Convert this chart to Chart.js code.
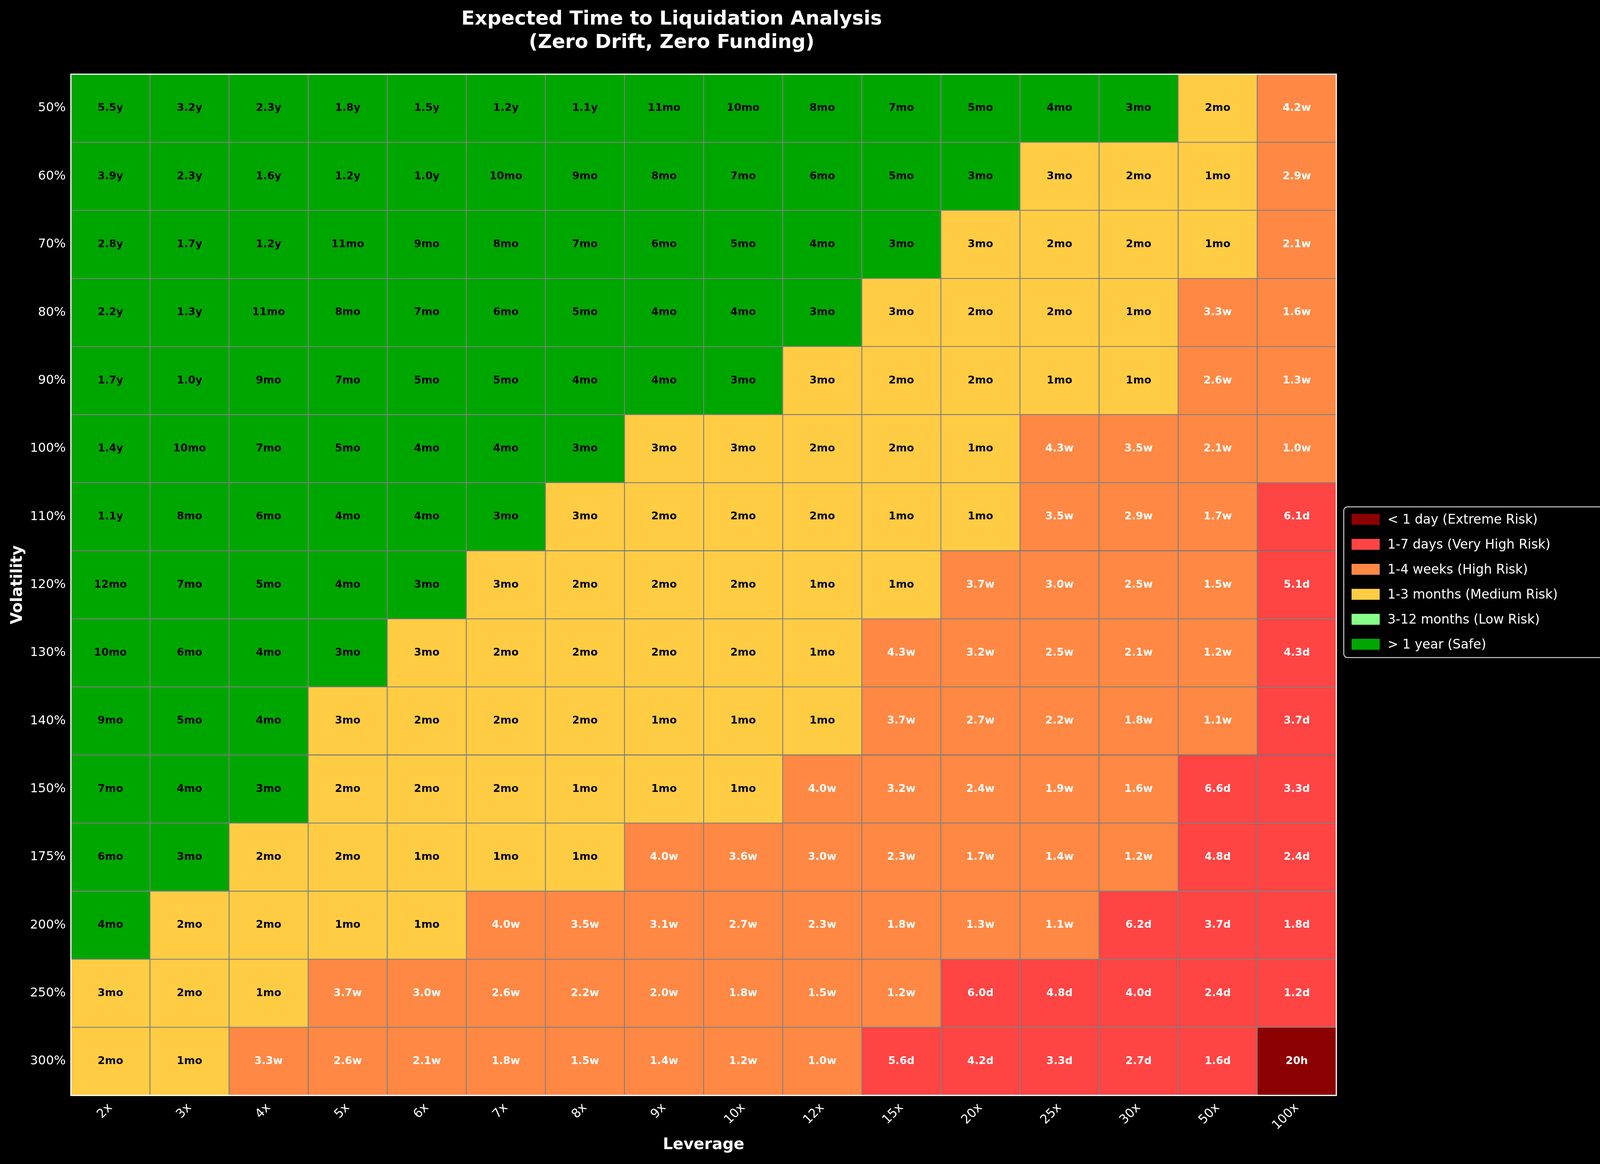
<!DOCTYPE html>
<html>
<head>
<meta charset="utf-8">
<script src="https://cdn.jsdelivr.net/npm/chart.js@4"></script>
<style>
  html, body { margin: 0; padding: 0; background: #000; }
  #wrap { width: 4171px; height: 2981px; }
</style>
</head>
<body>
<div id="wrap"><canvas id="c"></canvas></div>
<script>
// Leverage columns and volatility rows
const leverages = ['2x', '3x', '4x', '5x', '6x', '7x', '8x', '9x', '10x', '12x', '15x', '20x', '25x', '30x', '50x', '100x'];
const volatilities = ['50%', '60%', '70%', '80%', '90%', '100%', '110%', '120%', '130%', '140%', '150%', '175%', '200%', '250%', '300%'];

// Cell text, one row per volatility
const cellLabels = [
    ['5.5y', '3.2y', '2.3y', '1.8y', '1.5y', '1.2y', '1.1y', '11mo', '10mo', '8mo', '7mo', '5mo', '4mo', '3mo', '2mo', '4.2w'],
    ['3.9y', '2.3y', '1.6y', '1.2y', '1.0y', '10mo', '9mo', '8mo', '7mo', '6mo', '5mo', '3mo', '3mo', '2mo', '1mo', '2.9w'],
    ['2.8y', '1.7y', '1.2y', '11mo', '9mo', '8mo', '7mo', '6mo', '5mo', '4mo', '3mo', '3mo', '2mo', '2mo', '1mo', '2.1w'],
    ['2.2y', '1.3y', '11mo', '8mo', '7mo', '6mo', '5mo', '4mo', '4mo', '3mo', '3mo', '2mo', '2mo', '1mo', '3.3w', '1.6w'],
    ['1.7y', '1.0y', '9mo', '7mo', '5mo', '5mo', '4mo', '4mo', '3mo', '3mo', '2mo', '2mo', '1mo', '1mo', '2.6w', '1.3w'],
    ['1.4y', '10mo', '7mo', '5mo', '4mo', '4mo', '3mo', '3mo', '3mo', '2mo', '2mo', '1mo', '4.3w', '3.5w', '2.1w', '1.0w'],
    ['1.1y', '8mo', '6mo', '4mo', '4mo', '3mo', '3mo', '2mo', '2mo', '2mo', '1mo', '1mo', '3.5w', '2.9w', '1.7w', '6.1d'],
    ['12mo', '7mo', '5mo', '4mo', '3mo', '3mo', '2mo', '2mo', '2mo', '1mo', '1mo', '3.7w', '3.0w', '2.5w', '1.5w', '5.1d'],
    ['10mo', '6mo', '4mo', '3mo', '3mo', '2mo', '2mo', '2mo', '2mo', '1mo', '4.3w', '3.2w', '2.5w', '2.1w', '1.2w', '4.3d'],
    ['9mo', '5mo', '4mo', '3mo', '2mo', '2mo', '2mo', '1mo', '1mo', '1mo', '3.7w', '2.7w', '2.2w', '1.8w', '1.1w', '3.7d'],
    ['7mo', '4mo', '3mo', '2mo', '2mo', '2mo', '1mo', '1mo', '1mo', '4.0w', '3.2w', '2.4w', '1.9w', '1.6w', '6.6d', '3.3d'],
    ['6mo', '3mo', '2mo', '2mo', '1mo', '1mo', '1mo', '4.0w', '3.6w', '3.0w', '2.3w', '1.7w', '1.4w', '1.2w', '4.8d', '2.4d'],
    ['4mo', '2mo', '2mo', '1mo', '1mo', '4.0w', '3.5w', '3.1w', '2.7w', '2.3w', '1.8w', '1.3w', '1.1w', '6.2d', '3.7d', '1.8d'],
    ['3mo', '2mo', '1mo', '3.7w', '3.0w', '2.6w', '2.2w', '2.0w', '1.8w', '1.5w', '1.2w', '6.0d', '4.8d', '4.0d', '2.4d', '1.2d'],
    ['2mo', '1mo', '3.3w', '2.6w', '2.1w', '1.8w', '1.5w', '1.4w', '1.2w', '1.0w', '5.6d', '4.2d', '3.3d', '2.7d', '1.6d', '20h']
];

// Risk class per cell: D extreme, R very high, O high, Y medium, L low, G safe
const riskRows = [
    'GGGGGGGGGGGGGGYO',
    'GGGGGGGGGGGGYYYO',
    'GGGGGGGGGGGYYYYO',
    'GGGGGGGGGGYYYYOO',
    'GGGGGGGGGYYYYYOO',
    'GGGGGGGYYYYYOOOO',
    'GGGGGGYYYYYYOOOR',
    'GGGGGYYYYYYOOOOR',
    'GGGGYYYYYYOOOOOR',
    'GGGYYYYYYYOOOOOR',
    'GGGYYYYYYOOOOORR',
    'GGYYYYYOOOOOOORR',
    'GYYYYOOOOOOOORRR',
    'YYYOOOOOOOORRRRR',
    'YYOOOOOOOORRRRRD'
];

const riskKeys = ['D', 'R', 'O', 'Y', 'L', 'G'];
const riskNames = ['< 1 day (Extreme Risk)', '1-7 days (Very High Risk)', '1-4 weeks (High Risk)',
    '1-3 months (Medium Risk)', '3-12 months (Low Risk)', '> 1 year (Safe)'];
const riskColors = { D: '#8b0000', R: '#ff4444', O: '#ff8844', Y: '#ffcc44', L: '#88ff88', G: '#00a600' };
const darkText = { G: true, Y: true, L: true };

// One stacked dataset per leverage column, each cell has width 1
const datasets = leverages.map((lev, j) => ({
    label: lev,
    data: volatilities.map(() => 1),
    backgroundColor: volatilities.map((v, i) => riskColors[riskRows[i][j]]),
    borderColor: '#808080',
    borderWidth: 1.5,
    borderSkipped: false,
    categoryPercentage: 1,
    barPercentage: 1
}));

const cellTextPlugin = {
    id: 'cellText',
    afterDatasetsDraw: (chart) => {
        const {ctx} = chart;
        ctx.save();
        ctx.font = 'bold 27px "DejaVu Sans"';
        ctx.textAlign = 'center';
        ctx.textBaseline = 'middle';
        chart.data.datasets.forEach((ds, j) => {
            const meta = chart.getDatasetMeta(j);
            meta.data.forEach((el, i) => {
                const cx = (el.x + el.base) / 2;
                ctx.fillStyle = darkText[riskRows[i][j]] ? '#000' : '#fff';
                ctx.fillText(cellLabels[i][j], cx, el.y);
            });
        });
        // white frame around plot
        const a = chart.chartArea;
        ctx.strokeStyle = '#fff';
        ctx.lineWidth = 3;
        ctx.strokeRect(a.left, a.top, a.right - a.left, a.bottom - a.top);
        ctx.restore();
    }
};

const legendPlugin = {
    id: 'sideLegend',
    afterDraw: (chart) => {
        const {ctx} = chart;
        const x0 = 3440, y0 = 1298, w = 702, h = 386;
        ctx.save();
        ctx.fillStyle = '#000';
        ctx.strokeStyle = '#cccccc';
        ctx.lineWidth = 2.5;
        ctx.beginPath();
        ctx.roundRect(x0, y0, w, h, 10);
        ctx.fill();
        ctx.stroke();
        ctx.font = '33px "DejaVu Sans"';
        ctx.textBaseline = 'middle';
        riskKeys.forEach((k, i) => {
            const y = y0 + 32 + i * 64;
            ctx.fillStyle = riskColors[k];
            ctx.fillRect(x0 + 20, y - 14, 72, 28);
            ctx.fillStyle = '#fff';
            ctx.fillText(riskNames[i], x0 + 112, y + 2);
        });
        ctx.restore();
    }
};

const bgPlugin = {
    id: 'bg',
    beforeDraw: (chart) => {
        const {ctx} = chart;
        ctx.save();
        ctx.fillStyle = '#000';
        ctx.fillRect(0, 0, chart.width, chart.height);
        ctx.restore();
    }
};

new Chart(document.getElementById('c'), {
    type: 'bar',
    data: { labels: volatilities, datasets: datasets },
    options: {
        indexAxis: 'y',
        responsive: true,
        maintainAspectRatio: false,
        animation: false,
        layout: { padding: { left: 18, right: 750, top: 20, bottom: 20 } },
        scales: {
            x: {
                type: 'linear',
                stacked: true,
                min: 0,
                max: leverages.length,
                afterBuildTicks: (axis) => {
                    axis.ticks = leverages.map((l, j) => ({ value: j + 0.5 }));
                },
                ticks: {
                    callback: (v) => leverages[Math.floor(v)],
                    color: '#fff',
                    font: { size: 32, family: 'DejaVu Sans' },
                    maxRotation: 45,
                    minRotation: 45,
                    autoSkip: false
                },
                grid: { display: false, drawTicks: true, tickLength: 10, color: '#fff' },
                border: { color: '#fff', width: 3 },
                title: {
                    display: true,
                    text: 'Leverage',
                    color: '#fff',
                    font: { size: 40, weight: 'bold', family: 'DejaVu Sans' }
                }
            },
            y: {
                stacked: true,
                ticks: {
                    color: '#fff',
                    font: { size: 32, family: 'DejaVu Sans' }
                },
                grid: { display: false, drawTicks: true, tickLength: 10, color: '#fff' },
                border: { color: '#fff', width: 3 },
                title: {
                    display: true,
                    text: 'Volatility',
                    color: '#fff',
                    font: { size: 40, weight: 'bold', family: 'DejaVu Sans' }
                }
            }
        },
        plugins: {
            legend: { display: false },
            tooltip: { enabled: false },
            title: {
                display: true,
                text: ['Expected Time to Liquidation Analysis', '(Zero Drift, Zero Funding)'],
                color: '#fff',
                font: { size: 50, weight: 'bold', family: 'DejaVu Sans' },
                padding: { top: 0, bottom: 50 }
            }
        }
    },
    plugins: [bgPlugin, cellTextPlugin, legendPlugin]
});
</script>
</body>
</html>
